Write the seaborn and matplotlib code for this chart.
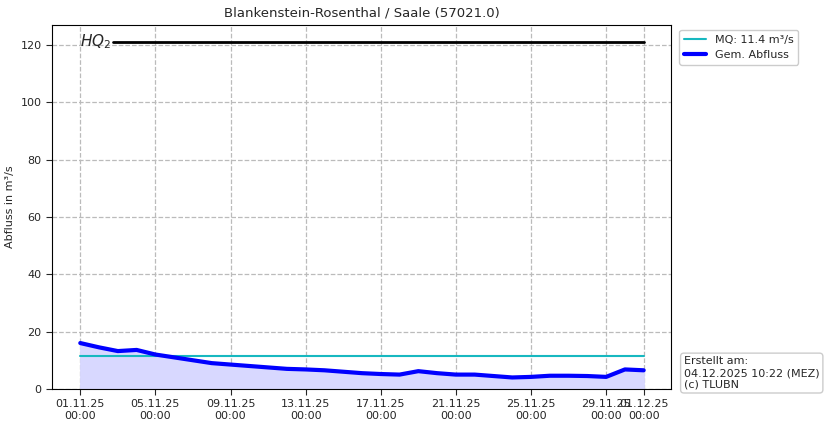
import pandas as pd
import numpy as np
import seaborn as sns
import matplotlib.pyplot as plt
import matplotlib.dates as mdates

# daily mean discharge (m³/s)
dates = pd.date_range("2025-11-01", "2025-12-01", freq="D")
flow = [16.0, 14.5, 13.2, 13.6, 12.0, 11.0, 10.0, 9.0, 8.5, 8.0, 7.5, 7.0, 6.8, 6.5, 6.0, 5.5,
        5.2, 5.0, 6.2, 5.5, 5.0, 5.0, 4.5, 4.0, 4.2, 4.6, 4.6, 4.5, 4.2, 6.8, 6.5]
mq = 11.4
hq2 = 121.0
hq2_start = "2025-11-02 18:00"

df = pd.DataFrame({"date": dates, "flow": flow})

sns.set_style("white")
fig = plt.figure(figsize=(8.27, 4.26), dpi=100)
ax = fig.add_axes([0.063, 0.087, 0.748, 0.855])

ax.fill_between(df["date"], 0, df["flow"], color="#d8d8ff")
ax.plot([dates[0], dates[-1]], [mq, mq], color="#17b8c0", lw=1.5, label="MQ: 11.4 m³/s")
sns.lineplot(data=df, x="date", y="flow", color="blue", lw=3, label="Gem. Abfluss", ax=ax)
ax.plot([pd.Timestamp(hq2_start), dates[-1]], [hq2, hq2], color="black", lw=2)
ax.text(dates[0], hq2, "$HQ_2$", fontsize=11, va="center", ha="left")

ax.set_xlim(pd.Timestamp("2025-10-30 12:00"), pd.Timestamp("2025-12-02 10:30"))
ax.set_ylim(0, 127)
ax.set_yticks(range(0, 121, 20))
ax.xaxis.set_major_locator(mdates.DayLocator(bymonthday=[1, 5, 9, 13, 17, 21, 25, 29]))
ax.xaxis.set_major_formatter(mdates.DateFormatter("%d.%m.%y\n%H:%M"))
ax.grid(True, ls="--", color="#bbbbbb", lw=0.9)
for s in ax.spines.values():
    s.set_color("black")
ax.tick_params(axis="both", labelsize=8, length=4, direction="out", bottom=True, left=True)
ax.set_xlabel("")
ax.set_ylabel("Abfluss in m³/s", fontsize=8)
ax.set_title("Blankenstein-Rosenthal / Saale (57021.0)", fontsize=9.5)
ax.legend(loc="upper left", bbox_to_anchor=(1.005, 1.0), fontsize=8, framealpha=1)
fig.text(0.827, 0.09, "Erstellt am:\n04.12.2025 10:22 (MEZ)\n(c) TLUBN", fontsize=8,
         bbox=dict(boxstyle="round,pad=0.3", fc="white", ec="#cccccc"))
fig.savefig("out.png", dpi=100)
